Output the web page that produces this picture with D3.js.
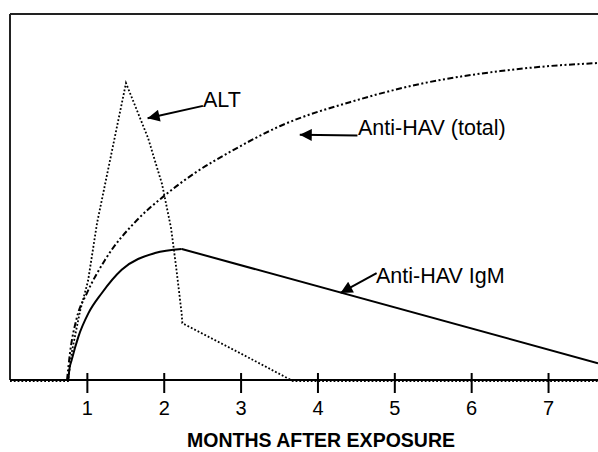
<html>
<head>
    <script src="https://d3js.org/d3.v7.min.js"></script>
    <title>Hepatitis A serology</title>
    <style>
        body {margin: 0; background: #fff;}
        text {font-family: "Liberation Sans", Arial, sans-serif;}
    </style>
</head>
<body>
<svg id="chart"></svg>
<script>
    // months after exposure, relative level (0-100, no scale shown)
    const altMonths   = [0, 0.755, 0.807, 0.911, 1.015, 1.133, 1.509, 1.796, 1.978, 2.095, 2.16, 2.234, 2.242, 2.967, 3.68, 7.65];
    const altValues   = [0, 0,     8.2,   19.1,  27.3,  43.2,  81.4,  66.4,  53.8,  41.8,  31.4, 18.3,  15.8,  7.9,   0,    0];

    const totalMonths = [0.742, 0.781, 0.872, 1.002, 1.236, 1.653, 2.017, 2.408, 2.903, 3.516, 4.518, 5.338, 6.38, 7.03, 7.65];
    const totalValues = [0,     7.4,   17.2,  23.8,  32.8,  43.7,  50.5,  56.6,  62.8,  69.4,  76.5,  80.9,  84.4, 85.8, 86.6];

    const igmMonths   = [0.759, 0.772, 0.803, 0.889, 1.019, 1.193, 1.453, 1.887, 2.234, 7.65];
    const igmValues   = [0,     2.8,   5.5,   11.8,  18.2,  23.7,  30.1,  34.7,  35.8,  4.6];

    const tickMonths  = [1, 2, 3, 4, 5, 6, 7];

    // label text, label anchor and arrow tip in data units
    const labelTexts  = ["ALT", "Anti-HAV (total)", "Anti-HAV IgM"];
    const labelAt     = [[2.51, 74.9], [4.52, 66.8], [4.77, 29.2]];
    const arrowTip    = [[1.79, 71.5], [3.77, 67.0], [4.30, 23.8]];

    var svg = d3.select("#chart")
        .attr("width", 598)
        .attr("height", 452);

    var x = d3.scaleLinear().domain([0, 7.65]).range([10, 598]);
    var y = d3.scaleLinear().domain([0, 100]).range([380, 14]);

    var defs = svg.append("defs");
    defs.append("marker")
        .attr("id", "head")
        .attr("viewBox", "0 0 10 10")
        .attr("refX", 10).attr("refY", 5)
        .attr("markerWidth", 15).attr("markerHeight", 12)
        .attr("markerUnits", "userSpaceOnUse")
        .attr("orient", "auto")
        .append("path")
        .attr("d", "M0,0 L10,5 L0,10 Z")
        .attr("fill", "#000");

    // frame: top and left
    svg.append("line")
        .attr("x1", x(0)).attr("x2", 598)
        .attr("y1", y(100)).attr("y2", y(100))
        .attr("stroke", "#222").attr("stroke-width", 2);
    svg.append("line")
        .attr("x1", x(0)).attr("x2", x(0))
        .attr("y1", y(100)).attr("y2", y(0))
        .attr("stroke", "#222").attr("stroke-width", 2);

    // the axis
    var xAxis = d3.axisBottom(x)
        .tickValues(tickMonths)
        .tickSize(0)
        .tickPadding(35);

    var ax = svg.append("g")
        .attr("transform", "translate(0," + y(0) + ")")
        .call(xAxis);
    ax.select(".domain").remove();
    ax.selectAll(".tick text")
        .attr("font-family", "Liberation Sans, Arial, sans-serif")
        .attr("font-size", 20)
        .attr("fill", "#000")
        .attr("dy", 0);
    ax.selectAll(".tick").append("line")
        .attr("y1", -7).attr("y2", 13)
        .attr("stroke", "#000").attr("stroke-width", 2);

    function series(ms, vs) {
        return ms.map(function (m, i) {return [m, vs[i]];});
    }

    var line = d3.line()
        .x(function (d) {return x(d[0]);})
        .y(function (d) {return y(d[1]);});

    var smooth = d3.line()
        .curve(d3.curveMonotoneX)
        .x(function (d) {return x(d[0]);})
        .y(function (d) {return y(d[1]);});

    svg.append("path").datum(series(altMonths, altValues))
        .attr("fill", "none")
        .attr("stroke", "#000")
        .attr("stroke-width", 1.8)
        .attr("stroke-dasharray", "1.8,2")
        .attr("d", line)
        .attr("transform", "translate(0,1)");

    svg.append("line")
        .attr("x1", x(0)).attr("x2", 598)
        .attr("y1", y(0)).attr("y2", y(0))
        .attr("stroke", "#000").attr("stroke-width", 2);

    svg.append("path").datum(series(totalMonths, totalValues))
        .attr("fill", "none")
        .attr("stroke", "#000")
        .attr("stroke-width", 2)
        .attr("stroke-dasharray", "6,2.5,2,2.5,2,2.5")
        .attr("d", smooth);

    svg.append("path").datum(series(igmMonths.slice(0, 9), igmValues.slice(0, 9)))
        .attr("fill", "none")
        .attr("stroke", "#000")
        .attr("stroke-width", 2)
        .attr("d", smooth);
    svg.append("path").datum(series(igmMonths.slice(8), igmValues.slice(8)))
        .attr("fill", "none")
        .attr("stroke", "#000")
        .attr("stroke-width", 2)
        .attr("d", line);

    // annotations
    labelTexts.forEach(function (t, i) {
        var lx = x(labelAt[i][0]), ly = y(labelAt[i][1]);
        svg.append("line")
            .attr("x1", lx).attr("y1", ly)
            .attr("x2", x(arrowTip[i][0])).attr("y2", y(arrowTip[i][1]))
            .attr("stroke", "#000").attr("stroke-width", 2)
            .attr("marker-end", "url(#head)");
    });
    svg.append("text").attr("x", 203).attr("y", 107)
        .attr("font-size", 21.5).text(labelTexts[0]);
    svg.append("text").attr("x", 358).attr("y", 135)
        .attr("font-size", 21.5).text(labelTexts[1]);
    svg.append("text").attr("x", 376).attr("y", 283)
        .attr("font-size", 21.5).text(labelTexts[2]);

    svg.append("text")
        .attr("x", 321).attr("y", 447)
        .attr("text-anchor", "middle")
        .attr("font-size", 19.5)
        .attr("font-weight", "bold")
        .text("MONTHS AFTER EXPOSURE");
</script>
</body>
</html>
